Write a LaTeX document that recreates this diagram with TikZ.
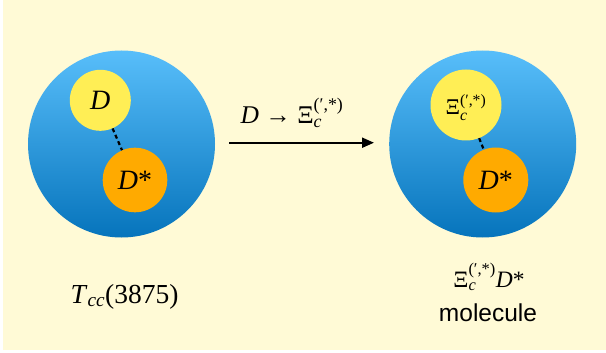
\documentclass[tikz,border=0pt]{standalone}
\usepackage{amsmath}
\usepackage{fontspec}
\setmainfont{Liberation Serif}
\newfontfamily\sansf{Liberation Sans}
\usetikzlibrary{arrows.meta}
\definecolor{bg}{RGB}{255,250,214}
\definecolor{bluetop}{RGB}{88,190,250}
\definecolor{bluebot}{RGB}{6,116,188}
\definecolor{yel}{RGB}{255,238,85}
\definecolor{org}{RGB}{255,170,0}
\newcommand\Xic{\ensuremath{\text{Ξ}^{\text{(′,*)}}_{\text{\itshape c}}}}
\begin{document}
\begin{tikzpicture}[x=1pt,y=-1pt,
  big/.style={circle,minimum size=187pt,inner sep=0pt,top color=bluetop,bottom color=bluebot,draw=none},
  ball/.style={circle,inner sep=0pt,draw=none},
  ytext/.style={font=\fontsize{28}{30}\selectfont},
  bond/.style={draw=black,line width=2.2pt,dash pattern=on 4pt off 3pt},
  arr/.style={draw=black,line width=2pt,-{Triangle[length=12pt,width=10pt]}},
  lab/.style={inner sep=0pt}]
\useasboundingbox (0,0) rectangle (606,353);
\fill[white] (0,0) rectangle (606,353);
\fill[bg] (3,0) rectangle (606,350);
% left
\node[big] (L) at (121.5,144) {};
\node[ball,fill=yel,minimum size=61pt,ytext] (LD) at (100.3,100.3) {\textit{D}};
\node[ball,fill=org,minimum size=64.6pt,ytext] (LDs) at (135,180) {\textit{D}*};
\draw[bond] (LD) -- (LDs);
% right
\node[big] (R) at (482.7,144) {};
\node[ball,fill=yel,minimum size=71pt] (RX) at (466,105) {};
\node[ball,fill=org,minimum size=65pt,ytext] (RDs) at (495.8,180) {\textit{D}*};
\draw[bond] (RX) -- (RDs);
\node[lab,anchor=base,font=\fontsize{22.5}{24}\selectfont] (RXt) at (466,115) {\Xic};
% arrow
\draw[arr] ([xshift=14pt,yshift=1.3pt]L.east) -- ([xshift=-15pt,yshift=1.3pt]R.west);
\node[lab,anchor=base,font=\fontsize{25.5}{27}\selectfont] (AL) at (292,123.3) {\textit{D} → \Xic};
% bottom labels
\node[lab,anchor=base,font=\fontsize{27.5}{30}\selectfont] (TL) at (124.5,303) {\textit{T}\ensuremath{_{\text{\itshape cc}}}(3875)};
\node[lab,anchor=base,font=\fontsize{23.5}{25}\selectfont] (XL) at (489,287) {\Xic\textit{D}*};
\node[lab,anchor=base,font=\sansf\fontsize{24.5}{26}\selectfont] (ML) at (488,321.5) {molecule};
\end{tikzpicture}
\end{document}
